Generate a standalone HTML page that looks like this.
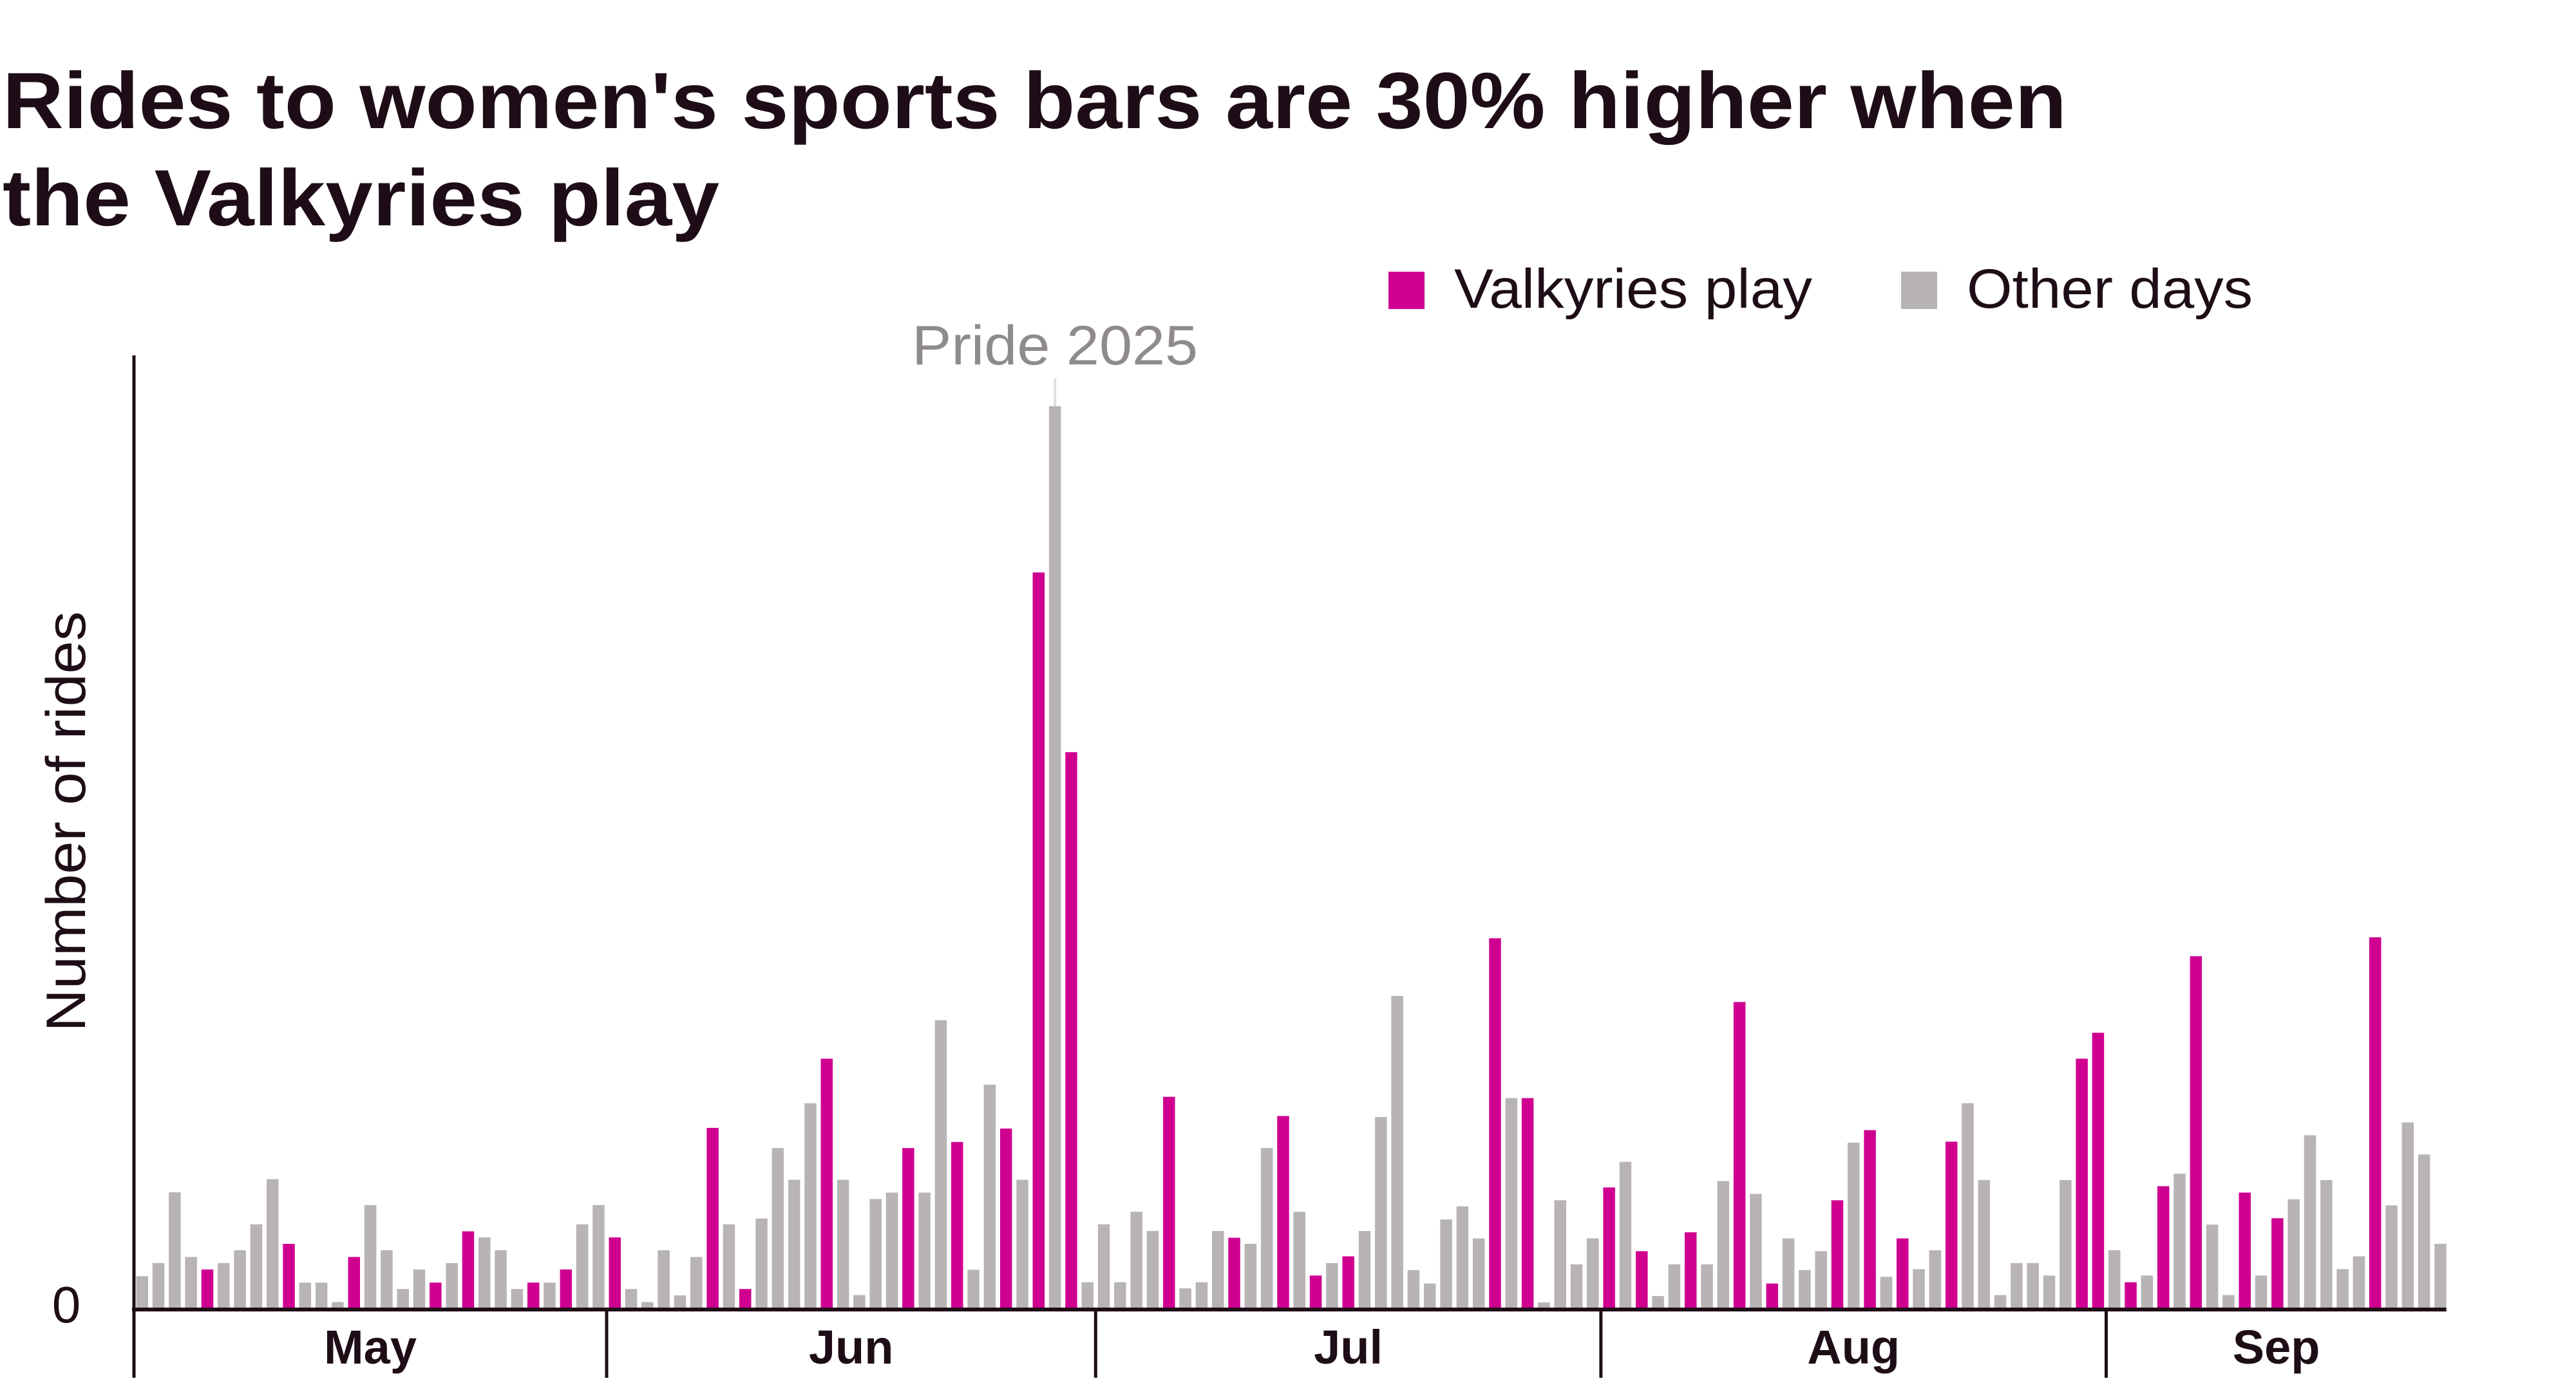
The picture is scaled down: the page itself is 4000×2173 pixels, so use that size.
<!DOCTYPE html>
<html><head><meta charset="utf-8"><style>
html,body{margin:0;padding:0;background:#fff;}
svg{display:block;font-family:"Liberation Sans",sans-serif;}
</style></head><body>
<svg id="chart" width="4000" height="2173" viewBox="0 0 4000 2173" xmlns="http://www.w3.org/2000/svg">
<text x="4" y="199" font-size="124" font-weight="bold" fill="#1e0d17" textLength="3205" lengthAdjust="spacingAndGlyphs">Rides to women's sports bars are 30% higher when</text>
<text x="4" y="350" font-size="124" font-weight="bold" fill="#1e0d17" textLength="1113" lengthAdjust="spacingAndGlyphs">the Valkyries play</text>
<g>
<rect x="2156" y="422" width="56" height="58" fill="#cf0090"/>
<text x="2258" y="478" font-size="86" fill="#1e0d17" textLength="556" lengthAdjust="spacingAndGlyphs">Valkyries play</text>
<rect x="2952" y="422" width="56" height="58" fill="#b8b3b5"/>
<text x="3054" y="478" font-size="86" fill="#1e0d17" textLength="444" lengthAdjust="spacingAndGlyphs">Other days</text>
</g>
<text transform="translate(132,1276) rotate(-90)" text-anchor="middle" font-size="86" fill="#1e0d17" textLength="653" lengthAdjust="spacingAndGlyphs">Number of rides</text>
<text x="103" y="2054" text-anchor="middle" font-size="80" fill="#1e0d17">0</text>
<g id="bars"></g>
<g id="axes"></g>
</svg>
<script>
const values = [98,139,360,158,119,139,179,260,401,199,78,78,17,158,320,179,58,119,78,139,238,219,179,58,78,78,119,260,320,
219,58,17,179,38,158,561,260,58,278,498,399,638,777,399,39,339,359,498,359,897,517,118,696,559,399,2295,2814,1734,79,
260,79,299,239,658,60,79,239,218,199,498,598,299,100,139,160,239,595,973,117,75,275,316,216,1153,654,654,16,335,135,216,
375,455,176,36,135,235,135,395,954,355,75,216,117,176,335,515,554,96,216,120,179,518,638,398,39,139,139,100,398,777,858,
179,79,100,379,418,1097,259,39,359,100,279,338,538,398,120,160,1156,319,578,478,199];
const gameDays = [5,10,14,19,21,25,27,30,36,38,43,48,51,54,56,58,64,68,71,73,75,84,86,91,93,96,99,101,105,107,109,112,120,121,123,125,127,130,132,138];
const months = ["May","Jun","Jul","Aug","Sep"];
const monthStartBar = [1,30,60,91,122];
const prideBar = 57;
const prideLabel = "Pride 2025";

const NS = "http://www.w3.org/2000/svg";
const x0 = 211.5, pitch = 25.31, bw = 18.5, baseY = 2031;
const xScale = i => x0 + (i - 1) * pitch;
const yScale = v => v / 2.01;
const bars = document.getElementById('bars');
values.forEach((v, k) => {
  const i = k + 1;
  const r = document.createElementNS(NS, 'rect');
  const game = gameDays.includes(i);
  r.setAttribute('x', xScale(i));
  r.setAttribute('y', baseY - yScale(v));
  r.setAttribute('width', bw);
  r.setAttribute('height', yScale(v));
  r.setAttribute('fill', game ? '#cf0090' : '#b8b3b5');
  
  
  bars.appendChild(r);
});
const axes = document.getElementById('axes');
function line(x1, y1, x2, y2, w, c, name) {
  const l = document.createElementNS(NS, 'line');
  l.setAttribute('x1', x1); l.setAttribute('y1', y1);
  l.setAttribute('x2', x2); l.setAttribute('y2', y2);
  l.setAttribute('stroke', c); l.setAttribute('stroke-width', w);
  
  
  axes.appendChild(l);
  return l;
}
const endX = xScale(values.length) + bw;
line(208, 552, 208, 2140, 5, '#1e0d17', 'y-axis-line');
line(205, baseY + 3, endX, baseY + 3, 6, '#1e0d17', 'x-axis-line');
months.forEach((m, j) => {
  const bx = xScale(monthStartBar[j]) - 3.5;
  if (j > 0) line(bx, baseY, bx, 2140, 5, '#1e0d17', 'month-tick-' + m.toLowerCase());
  const nextX = j < months.length - 1 ? xScale(monthStartBar[j + 1]) - 3.5 : endX;
  const t = document.createElementNS(NS, 'text');
  t.setAttribute('x', (bx + nextX) / 2);
  t.setAttribute('y', 2118);
  t.setAttribute('text-anchor', 'middle');
  t.setAttribute('font-size', '74');
  t.setAttribute('font-weight', 'bold');
  t.setAttribute('fill', '#1e0d17');
  t.textContent = m;
  
  
  axes.appendChild(t);
});
const px = xScale(prideBar) + bw / 2;
line(px, 588, px, baseY - yScale(values[prideBar - 1]), 4, '#e0e0e0', 'pride-annotation-line');
const pt = document.createElementNS(NS, 'text');
pt.setAttribute('x', px);
pt.setAttribute('y', 566);
pt.setAttribute('text-anchor', 'middle');
pt.setAttribute('font-size', '86');
pt.setAttribute('fill', '#8f8a8c');
pt.setAttribute('textLength', '444');
pt.setAttribute('lengthAdjust', 'spacingAndGlyphs');
pt.textContent = prideLabel;


axes.appendChild(pt);
</script>
</body></html>
